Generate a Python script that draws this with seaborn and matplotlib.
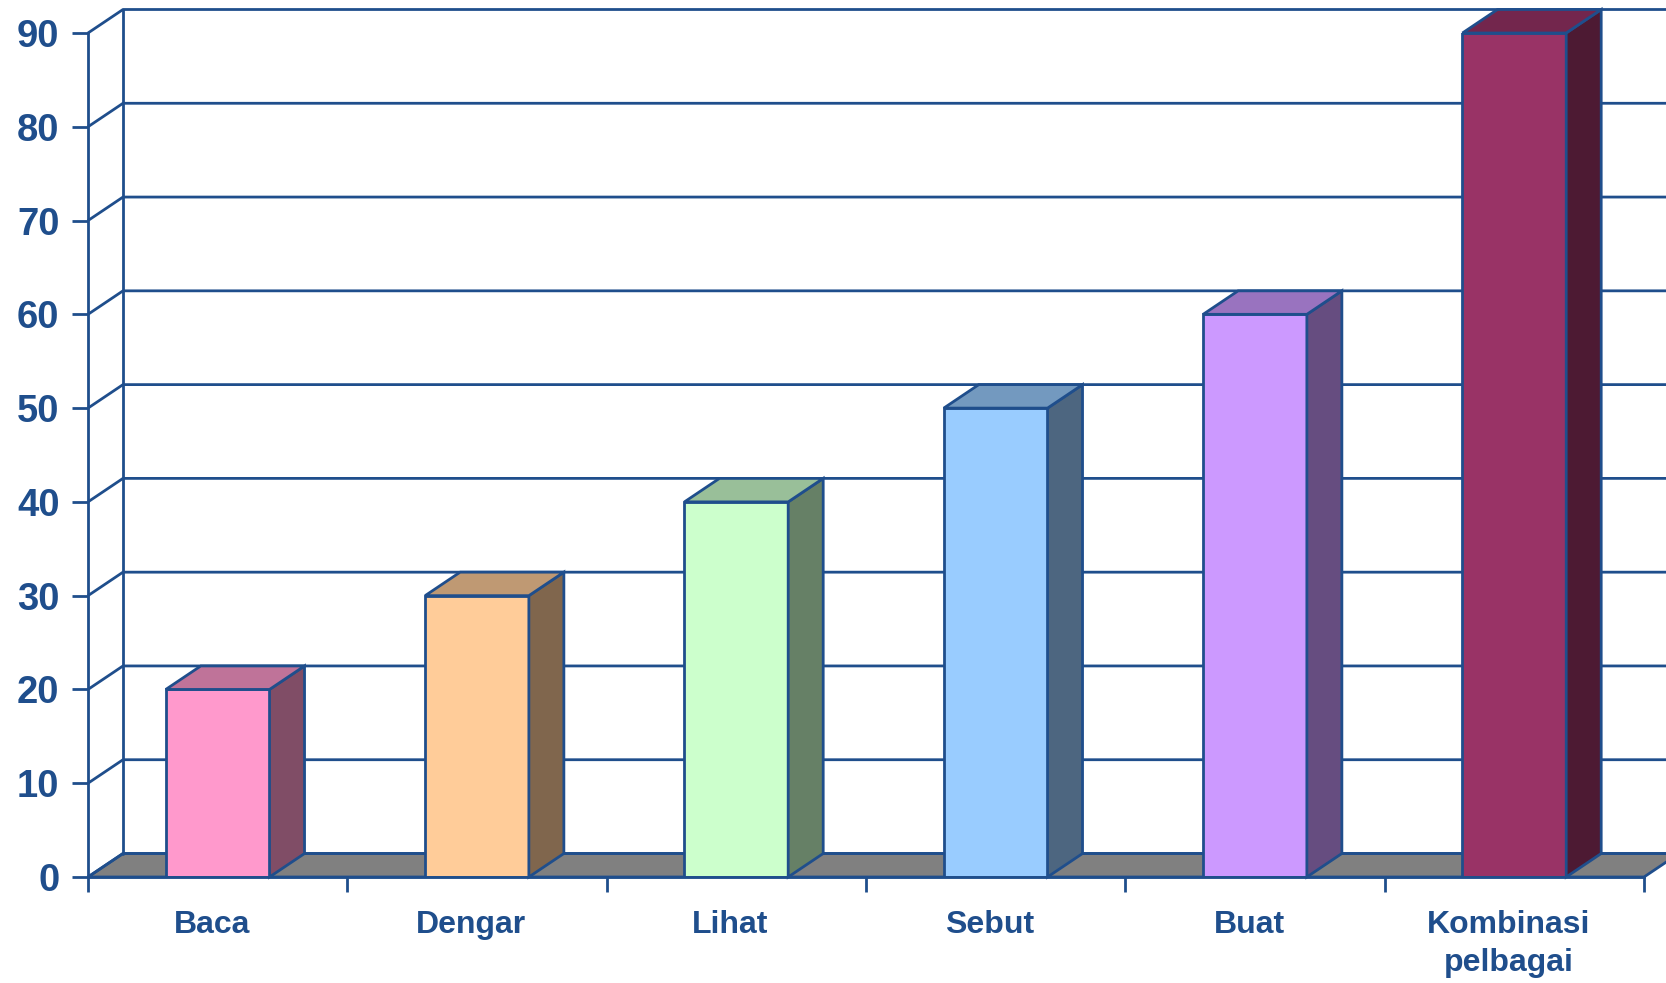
import matplotlib
matplotlib.use("Agg")
import matplotlib.pyplot as plt
from matplotlib.patches import Polygon
import matplotlib.colors as mcolors
import matplotlib.transforms as mtrans
import seaborn as sns

# ---- data ----
categories = ["Baca", "Dengar", "Lihat", "Sebut", "Buat", "Kombinasi\npelbagai"]
values = [20, 30, 40, 50, 60, 90]
front_colors = ["#FF99CC", "#FFCC99", "#CCFFCC", "#99CCFF", "#CC99FF", "#993366"]
yticks = list(range(0, 100, 10))

EDGE = "#1F4E8C"
FLOOR = "#808080"
LW = 2.0

sns.set_style("white")
plt.rcParams["font.family"] = ["Liberation Sans", "DejaVu Sans"]
plt.rcParams["font.weight"] = "bold"

W, H = 1666, 983
fig = plt.figure(figsize=(W / 100, H / 100), dpi=100)
ax = fig.add_axes([88 / W, 106 / H, 1556 / W, 844 / H])

n = len(categories)
ymax = 90
DX = 35 / (1556 / n)          # depth offset in data x units
DY = 23.5 * ymax / 844        # depth offset in data y units
x0, x1 = -0.5, n - 0.5
XR = x1 + 1.0

# floor
floor = Polygon([(x0, 0), (x0 + DX, DY), (x1 + DX, DY), (x1, 0)], closed=True,
                facecolor=FLOOR, edgecolor=EDGE, linewidth=LW, zorder=0.4,
                clip_on=False)
ax.add_patch(floor)

# back wall gridlines + diagonals
for v in yticks:
    ax.plot([x0, x0 + DX, XR], [v, v + DY, v + DY], color=EDGE, lw=LW,
            zorder=0.5, clip_on=False, solid_capstyle="butt")
ax.plot([x0 + DX, x0 + DX], [DY, ymax + DY], color=EDGE, lw=LW, zorder=0.5,
        clip_on=False)

# bars (front faces)
sns.barplot(x=categories, y=values, hue=categories, palette=front_colors,
            width=0.4, saturation=1, edgecolor=EDGE, linewidth=LW,
            legend=False, ax=ax, zorder=2)

# 3D sides and tops
for p in list(ax.patches):
    if p is floor:
        continue
    bx, bw, bh = p.get_x(), p.get_width(), p.get_height()
    fc = mcolors.to_rgb(p.get_facecolor())
    side_c = tuple(c * 0.5 for c in fc)
    top_c = tuple(c * 0.75 for c in fc)
    side = Polygon([(bx + bw, 0), (bx + bw + DX, DY), (bx + bw + DX, bh + DY),
                    (bx + bw, bh)], closed=True, facecolor=side_c,
                   edgecolor=EDGE, linewidth=LW, zorder=2.1, clip_on=False)
    top = Polygon([(bx, bh), (bx + DX, bh + DY), (bx + bw + DX, bh + DY),
                   (bx + bw, bh)], closed=True, facecolor=top_c,
                  edgecolor=EDGE, linewidth=LW, zorder=2.1, clip_on=False)
    ax.add_patch(side)
    ax.add_patch(top)

ax.set_xlim(x0, x1)
ax.set_ylim(0, ymax)

# spines
for s in ["top", "right"]:
    ax.spines[s].set_visible(False)
for s in ["left", "bottom"]:
    ax.spines[s].set_color(EDGE)
    ax.spines[s].set_linewidth(LW)
    ax.spines[s].set_zorder(3)

ax.set_yticks(yticks)
ax.tick_params(axis="y", length=11.5, width=LW, color=EDGE, labelcolor=EDGE,
               labelsize=27.5, pad=9, direction="out", left=True)
ax.set_xticks(range(n))
ax.set_xticklabels(categories)
ax.set_xticks([i - 0.5 for i in range(n + 1)], minor=True)
ax.tick_params(axis="x", which="major", length=0, labelcolor=EDGE,
               labelsize=23, pad=24)
ax.tick_params(axis="x", which="minor", length=10.8, width=LW, color=EDGE,
               direction="out", bottom=True)
shift = mtrans.ScaledTranslation(-6 / 100, 0, fig.dpi_scale_trans)
for lab in ax.get_xticklabels():
    lab.set_fontweight("bold")
    lab.set_linespacing(1.35)
    lab.set_transform(lab.get_transform() + shift)
for lab in ax.get_yticklabels():
    lab.set_fontweight("bold")
ax.set_xlabel("")
ax.set_ylabel("")
ax.grid(False)
ax.set_facecolor("none")

fig.savefig("out.png", dpi=100, facecolor="white")
